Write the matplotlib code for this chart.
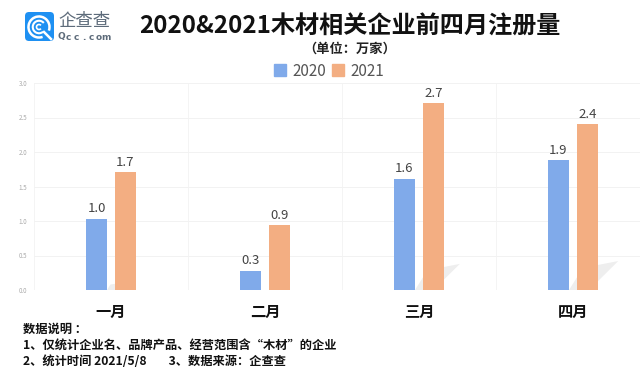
import matplotlib
matplotlib.use('Agg')
import matplotlib.pyplot as plt
from matplotlib.patches import FancyBboxPatch, Arc, Polygon, Rectangle
from matplotlib.lines import Line2D
import numpy as np

plt.rcParams['font.family'] = ['Noto Sans CJK SC', 'DejaVu Sans']

months = ['一月', '二月', '三月', '四月']
values_2020 = [1.03, 0.28, 1.61, 1.88]
values_2021 = [1.71, 0.94, 2.71, 2.40]
series_names = ['2020', '2021']
yticks = [0.0, 0.5, 1.0, 1.5, 2.0, 2.5, 3.0]
notes = ['数据说明 ：',
         '1、仅统计企业名、品牌产品、经营范围含“木材”的企业',
         '2、统计时间 2021/5/8        3、数据来源：企查查']

BLUE = '#80aaea'
ORANGE = '#f3ae82'
W, H = 640, 375

fig = plt.figure(figsize=(6.4, 3.75), dpi=100)
ax = fig.add_axes([34/W, 1-290/H, (W-34)/W, 207/H])

x = np.arange(len(months))
bar_w = 21/154
offset = 14.5/154

# the faint streaks behind the bars
for xi, grow in zip(x, [0.25, 0.0, 0.9, 1.0]):
    if grow == 0:
        continue
    left = xi - offset + bar_w/2
    ax.add_patch(Polygon([[left, 0], [left + 0.10*grow + 0.03, 0],
                          [left + 0.29*grow + 0.03, 0.42*grow],
                          [left + 0.09*grow, 0.32*grow]],
                         closed=True, color='#eeeeee', lw=0, zorder=1))

ax.bar(x - offset, values_2020, bar_w, color=BLUE, zorder=2)
ax.bar(x + offset, values_2021, bar_w, color=ORANGE, zorder=2)

for xi, a, b in zip(x, values_2020, values_2021):
    ax.text(xi - offset, a + 0.05, '%.1f' % a, ha='center', va='bottom', fontsize=9.5, color='#444444')
    ax.text(xi + offset, b + 0.05, '%.1f' % b, ha='center', va='bottom', fontsize=9.5, color='#444444')

ax.set_yticks(yticks)
ax.set_yticklabels(['%.1f' % t for t in yticks], fontsize=4.5, color='#aaaaaa')
ax.set_xticks(x)
ax.set_xticklabels(months, fontsize=11, fontweight='bold', color='#111111')
ax.tick_params(axis='x', length=0, pad=10)
ax.tick_params(axis='y', length=0, pad=5)
ax.set_xticks(np.arange(-0.5, 3.6, 0.5), minor=True)
ax.tick_params(axis='x', which='minor', length=0)
ax.grid(True, which='minor', axis='x', color='#f4f4f4', lw=0.7, zorder=0)
ax.grid(True, which='major', axis='y', color='#f2f2f2', lw=0.7, zorder=0)
ax.grid(False, which='major', axis='x')
ax.set_xlim(-0.5, 3.5 - 10/154)
ax.set_ylim(0, 3.0)
for s in ax.spines.values():
    s.set_visible(False)

fig.text(350/W, 1-27/H, '2020&2021木材相关企业前四月注册量', ha='center', va='center',
         fontsize=17.4, fontweight='bold', color='#111111')
fig.text(350/W, 1-49/H, '（单位：万家）', ha='center', va='center',
         fontsize=9.5, fontweight='bold', color='#222222')

handles = [Rectangle((0, 0), 1, 1, color=BLUE), Rectangle((0, 0), 1, 1, color=ORANGE)]
fig.legend(handles, series_names, loc='center', bbox_to_anchor=(329/W, 1-71/H), ncol=2, frameon=False,
           fontsize=11, labelcolor='#555555', handlelength=0.8, handleheight=0.8,
           handletextpad=0.4, columnspacing=0.35)

for i, line in enumerate(notes):
    fig.text(23/W, 1-(329 + i*16.2)/H, line, ha='left', va='center', fontsize=8.8,
             fontweight='bold', color='#111111')

# logo, drawn in pixel coordinates
logo = fig.add_axes([0, 0, 1, 1], zorder=5)
logo.set_xlim(0, W)
logo.set_ylim(H, 0)
logo.axis('off')
logo.patch.set_alpha(0)
logo.add_patch(FancyBboxPatch((28, 15), 23, 23, boxstyle='round,pad=3,rounding_size=4', fc='#1e90f2', ec='none'))
logo.add_patch(Arc((39, 27), 21, 21, theta1=70, theta2=20, color='white', lw=1.8))
logo.add_patch(Arc((39, 27), 12.5, 12.5, theta1=50, theta2=320, color='white', lw=1.5))
logo.add_patch(Arc((39, 27), 5, 5, theta1=40, theta2=320, color='white', lw=1.2))
logo.add_line(Line2D([44, 51], [32, 39], color='white', lw=1.8))
logo.text(84, 21, '企查查', ha='center', va='center', fontsize=12.5, color='#5d6b7a', fontweight='light')
for lx, ch in zip(np.linspace(61, 106, 7), 'Qcc.com'):
    logo.text(lx, 37, ch, ha='center', va='center', fontsize=6.5, color='#5d6b7a',
              fontweight='bold', family=['DejaVu Sans'])

fig.savefig('out.png', dpi=100)
